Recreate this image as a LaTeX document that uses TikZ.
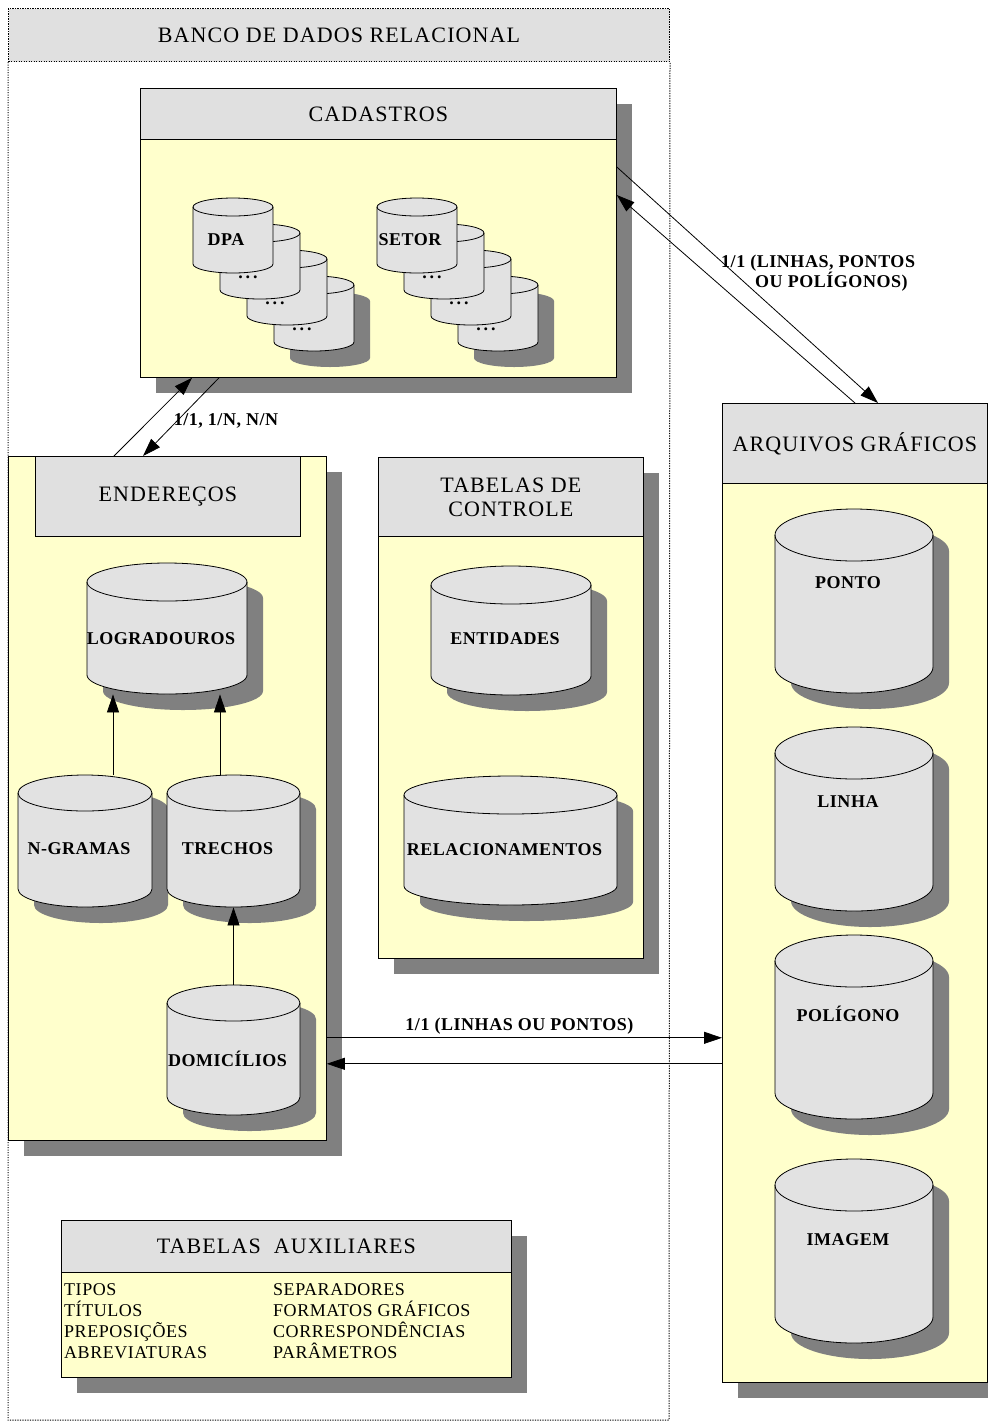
\documentclass[tikz,border=0pt]{standalone}
\usepackage{fontspec}
\setmainfont{Liberation Serif}
\newfontfamily\hdfont[LetterSpace=5]{Liberation Serif}
\newfontfamily\lbfont[LetterSpace=3]{Liberation Serif}
\usetikzlibrary{arrows.meta, shadows}

\definecolor{ylw}{RGB}{255,255,204}
\definecolor{hdgray}{RGB}{224,224,224}
\definecolor{cylgray}{RGB}{226,226,226}
\definecolor{shgray}{RGB}{128,128,128}

\begin{document}
\begin{tikzpicture}[x=1pt, y=1pt,
  shd/.style={drop shadow={shadow xshift=16pt, shadow yshift=-16pt, opacity=1, fill=shgray}},
  frame/.style={line width=1pt, dash pattern=on 1.2pt off 1.3pt},
  body/.style={draw, fill=ylw, line width=.8pt, inner sep=0pt, anchor=north west, shd},
  hdr/.style={draw, fill=hdgray, line width=.8pt, inner sep=0pt, anchor=north west, align=center, font=\hdfont\fontsize{22}{24}\selectfont},
  cyl/.style={draw, fill=cylgray, line width=.8pt},
  cylp/.style n args={5}{insert path={({(#1)-(#3)/2},{-(#2)-(#5)}) -- ++(0,{-(#4)+2*(#5)})
    arc[start angle=180, end angle=360, x radius={(#3)/2}, y radius=#5] -- ++(0,{(#4)-2*(#5)})
    arc[start angle=0, end angle=180, x radius={(#3)/2}, y radius=#5] -- cycle}},
  cyltop/.style n args={5}{insert path={({(#1)-(#3)/2},{-(#2)-(#5)})
    arc[start angle=180, end angle=360, x radius={(#3)/2}, y radius=#5]}},
  cylbox/.style={inner sep=0pt, anchor=north},
  lbl/.style={font=\lbfont\bfseries\fontsize{18}{20}\selectfont},
  auxtxt/.style={anchor=base west, inner sep=0pt, font=\lbfont\fontsize{18}{21}\selectfont},
  arr/.style={line width=.8pt, -{Triangle[length=18pt, width=12pt]}}
]
\useasboundingbox (0,0) rectangle (988,-1428);

% outer frame
\node[draw, frame, fill=hdgray, minimum width=661, minimum height=53, inner sep=0pt,
  anchor=north west, font=\hdfont\fontsize{22}{26}\selectfont] (bdr) at (8,-8) {BANCO DE DADOS RELACIONAL};
\draw[frame] (bdr.south west) -- (8,-1420) -- (669,-1420) -- (bdr.south east);

% sections
\node[body, minimum width=476, minimum height=289] (cad) at (140,-88) {};
\node[hdr, minimum width=476, minimum height=51] (cadh) at (cad.north west) {CADASTROS};
\node[body, minimum width=318, minimum height=684] (end) at (8,-456) {};
\node[hdr, minimum width=265, minimum height=80] (endh) at ([xshift=27]end.north west) {ENDEREÇOS};
\node[body, minimum width=265, minimum height=501] (ctl) at (378,-457) {};
\node[hdr, minimum width=265, minimum height=79] (ctlh) at (ctl.north west) {TABELAS DE\\CONTROLE};
\node[body, minimum width=265, minimum height=979] (arq) at (722,-403) {};
\node[hdr, minimum width=265, minimum height=80] (arqh) at (arq.north west) {ARQUIVOS GRÁFICOS};
\node[body, minimum width=450, minimum height=157] (aux) at (61,-1220) {};
\node[hdr, minimum width=450, minimum height=52] (auxh) at (aux.north west) {TABELAS\ \ AUXILIARES};

% stacked tables
\foreach \st/\sx/\txt in {dpa/233/DPA, set/417/SETOR}{
  \foreach \k/\sh in {3/shd, 2/, 1/, 0/}{
    \path[cyl, \sh, cylp={\sx+27*\k}{198+26*\k}{80}{75}{9}];
    \draw[line width=.8pt, cyltop={\sx+27*\k}{198+26*\k}{80}{75}{9}];
    \node[cylbox, minimum width=80, minimum height=75] (\st\k) at ({\sx+27*\k},{-(198+26*\k)}) {};
    \ifnum\k=0
      \node[lbl] (\st\k-l) at ({\sx-7},-240) {\txt};
    \else
      \node[lbl] (\st\k-l) at ({\sx+27*\k-12},{-(198+26*\k+53)}) {.\hspace{3pt}.\hspace{3pt}.};
    \fi
  }
}

% tables
\foreach \nm/\cx/\ty/\w/\h/\ry/\txt/\ly in {
  lgr/167/563/160/131/19/LOGRADOUROS/639,
  ngr/85/775/134/132/18/N-GRAMAS/849,
  tre/233.5/775/133/132/18/TRECHOS/849,
  dom/233.5/985/133/130/18/DOMICÍLIOS/1059,
  ent/511/566/160/129/19/ENTIDADES/639,
  rel/510.5/776/213/129/19/RELACIONAMENTOS/850,
  pto/854/509/158/184/26/PONTO/583,
  lin/854/727/158/184/26/LINHA/802,
  pol/854/935/158/184/26/POLÍGONO/1014,
  img/854/1159/158/184/26/IMAGEM/1240}{
  \path[cyl, shd, cylp={\cx}{\ty}{\w}{\h}{\ry}];
  \draw[line width=.8pt, cyltop={\cx}{\ty}{\w}{\h}{\ry}];
  \node[cylbox, minimum width=\w, minimum height=\h] (\nm) at (\cx,-\ty) {};
  \node[lbl] (\nm-l) at (\cx-6,-\ly) {\txt};
}

% auxiliary lists
\foreach \t [count=\i] in {TIPOS, TÍTULOS, PREPOSIÇÕES, ABREVIATURAS}
  \node[auxtxt] (auxa\i) at (64,{-1295-21*(\i-1)}) {\t};
\foreach \t [count=\i] in {SEPARADORES, FORMATOS GRÁFICOS, CORRESPONDÊNCIAS, PARÂMETROS}
  \node[auxtxt] (auxb\i) at (273,{-1295-21*(\i-1)}) {\t};

% links inside enderecos
\coordinate (a1) at ([xshift=28]ngr.north);
\coordinate (a2) at ([xshift=-13.5]tre.north);
\draw[arr] (a1) -- (a1 |- lgr.south);
\draw[arr] (a2) -- (a2 |- lgr.south);
\draw[arr] (dom.north) -- (tre.south);

% links between sections
\draw[arr] ([xshift=106]end.north west) -- ([xshift=52]cad.south west);
\draw[arr] ([xshift=79]cad.south west) -- ([xshift=135]end.north west);
\node[lbl] (rel1) at (226,-421) {1/1, 1/N, N/N};

\draw[arr] ([yshift=-79]cad.north east) -- ([xshift=156]arq.north west);
\draw[arr] ([xshift=133]arq.north west) -- ([yshift=-107]cad.north east);
\node[lbl, align=left, anchor=west, inner sep=0pt] (rel2) at (721,-273) {1/1 (LINHAS, PONTOS\\\hspace*{34pt}OU POLÍGONOS)};

\coordinate (e1) at ([yshift=103]end.south east);
\coordinate (e2) at ([yshift=77]end.south east);
\draw[arr] (e1) -- (e1 -| arq.west) node[lbl, midway, above, xshift=-5] (rel3) {1/1 (LINHAS OU PONTOS)};
\draw[arr] (e2 -| arq.west) -- (e2);
\end{tikzpicture}
\end{document}
